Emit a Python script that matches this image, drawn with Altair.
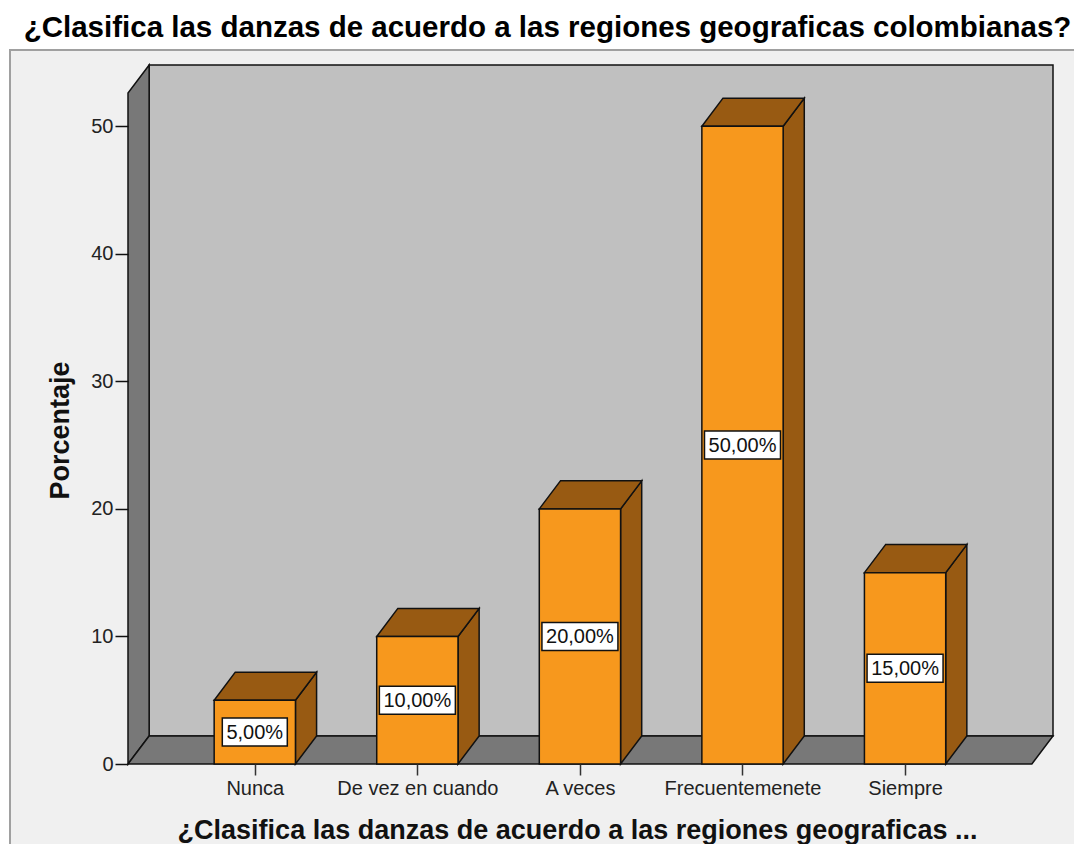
import json
import altair as alt
import pandas as pd

# ---------------- data ----------------
categories = ["Nunca", "De vez en cuando", "A veces", "Frecuentemenete", "Siempre"]
percentages = [5, 10, 20, 50, 15]
value_labels = ["5,00%", "10,00%", "20,00%", "50,00%", "15,00%"]
y_ticks = [0, 10, 20, 30, 40, 50]

TITLE = "¿Clasifica las danzas de acuerdo a las regiones geograficas colombianas?"
X_TITLE = "¿Clasifica las danzas de acuerdo a las regiones geograficas ..."
Y_TITLE = "Porcentaje"

# ---------------- style / geometry constants ----------------
FONT = "Liberation Sans"
ORANGE = "#f7981d"
BROWN = "#985a12"
WALL = "#787878"
BACK = "#c0c0c0"
PANEL = "#f0f0f0"
LINE = "#111111"

HALF = 0.25     # half bar width, in category steps
OUTER = 0.78    # floor overhang beyond first/last category
DX = 0.13       # 3-D depth along x, category steps
DY = 2.2        # 3-D depth along y, percentage units
YTOP = 52.6     # front top edge of the left wall

W, H = 925, 699
n = len(categories)
XMIN, XMAX = -OUTER, n - 1 + OUTER + DX
YMAX = YTOP + DY
STEP = W / (XMAX - XMIN)
PXY = H / YMAX

xs = alt.Scale(domain=[XMIN, XMAX], nice=False, zero=False)
ys = alt.Scale(domain=[0, YMAX], nice=False, zero=False)

# ---------------- derived tables ----------------
bars = pd.DataFrame({"cat": categories, "idx": list(range(n)),
                     "pct": percentages, "label": value_labels})
bars["xl"] = bars["idx"] - HALF
bars["xr"] = bars["idx"] + HALF
bars["base"] = 0.0
bars["mid"] = bars["pct"] / 2.0
hw = (32.5 + 5.5 * (bars["label"].str.len() - 5)) / STEP
hh = 14 / PXY
bars["bx1"] = bars["idx"] - hw
bars["bx2"] = bars["idx"] + hw
bars["by1"] = bars["mid"] - hh
bars["by2"] = bars["mid"] + hh

side_rows, top_rows = [], []
for rec in bars.to_dict("records"):
    c, p, xl, xr = rec["cat"], rec["pct"], rec["xl"], rec["xr"]
    side_rows.append({"cat": c, "x": xr, "y": 0.0, "y2": p})
    side_rows.append({"cat": c, "x": xr + DX, "y": DY, "y2": p + DY})
    top_rows.append({"cat": c, "y": p, "x": xl, "x2": xr})
    top_rows.append({"cat": c, "y": p + DY, "x": xl + DX, "x2": xr + DX})
side = pd.DataFrame(side_rows)
top = pd.DataFrame(top_rows)

back = pd.DataFrame({"x": [XMIN + DX], "x2": [XMAX], "y": [DY], "y2": [YMAX]})
left = pd.DataFrame({"x": [XMIN, XMIN + DX], "y": [0.0, DY], "y2": [YTOP, YMAX]})
floor = pd.DataFrame({"y": [0.0, DY], "x": [XMIN, XMIN + DX], "x2": [XMAX - DX, XMAX]})
one = pd.DataFrame({"k": [0]})

label_expr = "[" + ",".join(json.dumps(c) for c in categories) + "][datum.value]"

x_axis = alt.Axis(values=list(range(n)), labelExpr=label_expr, title=X_TITLE,
                  domain=False, grid=False, ticks=True, tickSize=11,
                  tickColor="#333333", tickWidth=1.5,
                  labelFont=FONT, labelFontSize=20, labelColor="#222222",
                  labelPadding=3, labelOverlap=False, labelFlush=False,
                  titleFont=FONT, titleFontSize=27, titleFontWeight="bold",
                  titleColor="#111111", titleX=449, titleY=74,
                  titleBaseline="alphabetic",
                  titleAnchor="start", titleAlign="center", zindex=1)
y_axis = alt.Axis(values=y_ticks, title=Y_TITLE, domain=False, grid=False,
                  ticks=True, tickSize=13, tickColor="#111111", tickWidth=1.5,
                  labelFont=FONT, labelFontSize=20, labelColor="#222222",
                  labelPadding=2,
                  titleFont=FONT, titleFontSize=27, titleFontWeight="bold",
                  titleColor="#111111", titleAngle=-90, titleX=-68,
                  titleY=365, titleAnchor="start", titleAlign="center",
                  titleBaseline="middle", zindex=1)

# ---------------- layers ----------------
panel = alt.Chart(one).mark_rect(fill=PANEL, stroke="#a0a0a0", strokeWidth=2).encode(
    x=alt.value(-118), x2=alt.value(1000), y=alt.value(-15), y2=alt.value(900)
)

back_wall = alt.Chart(back).mark_rect(fill=BACK, stroke=LINE, strokeWidth=1.5).encode(
    x=alt.X("x:Q", scale=xs, axis=x_axis), x2="x2:Q",
    y=alt.Y("y:Q", scale=ys, axis=y_axis), y2="y2:Q",
)

left_wall = alt.Chart(left).mark_area(orient="vertical", fill=WALL, stroke=LINE,
                                      strokeWidth=1.5, opacity=1).encode(
    x=alt.X("x:Q", scale=xs),
    y=alt.Y("y:Q", scale=ys), y2="y2:Q",
)

floor_l = alt.Chart(floor).mark_area(orient="horizontal", fill=WALL, stroke=LINE,
                                     strokeWidth=1.5, opacity=1).encode(
    y=alt.Y("y:Q", scale=ys),
    x=alt.X("x:Q", scale=xs), x2="x2:Q",
)

side_l = alt.Chart(side).mark_area(orient="vertical", fill=BROWN, stroke=LINE,
                                   strokeWidth=1.5, opacity=1).encode(
    x=alt.X("x:Q", scale=xs),
    y=alt.Y("y:Q", scale=ys), y2="y2:Q",
    detail="cat:N",
)

top_l = alt.Chart(top).mark_area(orient="horizontal", fill=BROWN, stroke=LINE,
                                 strokeWidth=1.5, opacity=1).encode(
    y=alt.Y("y:Q", scale=ys),
    x=alt.X("x:Q", scale=xs), x2="x2:Q",
    detail="cat:N",
)

front = alt.Chart(bars).mark_rect(fill=ORANGE, stroke=LINE, strokeWidth=1.5).encode(
    x=alt.X("xl:Q", scale=xs), x2="xr:Q",
    y=alt.Y("pct:Q", scale=ys), y2="base:Q",
)

boxes = alt.Chart(bars).mark_rect(fill="white", stroke=LINE, strokeWidth=1.5).encode(
    x=alt.X("bx1:Q", scale=xs), x2="bx2:Q",
    y=alt.Y("by1:Q", scale=ys), y2="by2:Q",
)

texts = alt.Chart(bars).mark_text(font=FONT, fontSize=20, color="#111111",
                                  align="center", baseline="middle", dy=1).encode(
    x=alt.X("idx:Q", scale=xs),
    y=alt.Y("mid:Q", scale=ys),
    text="label:N",
)

chart = alt.layer(
    panel, back_wall, left_wall, floor_l, side_l, top_l, front, boxes, texts
).properties(
    width=W, height=H,
    title=alt.TitleParams(TITLE, font=FONT, fontSize=29.5, fontWeight="bold",
                          color="#000000", anchor="middle", dx=-43, offset=6),
    autosize=alt.AutoSizeParams(type="none"),
    padding={"left": 120, "top": 57, "right": 21, "bottom": 80},
).configure(background="white").configure_view(strokeWidth=0, fill=PANEL)

chart.save("out.html", embed_options={"renderer": "svg", "actions": False})
